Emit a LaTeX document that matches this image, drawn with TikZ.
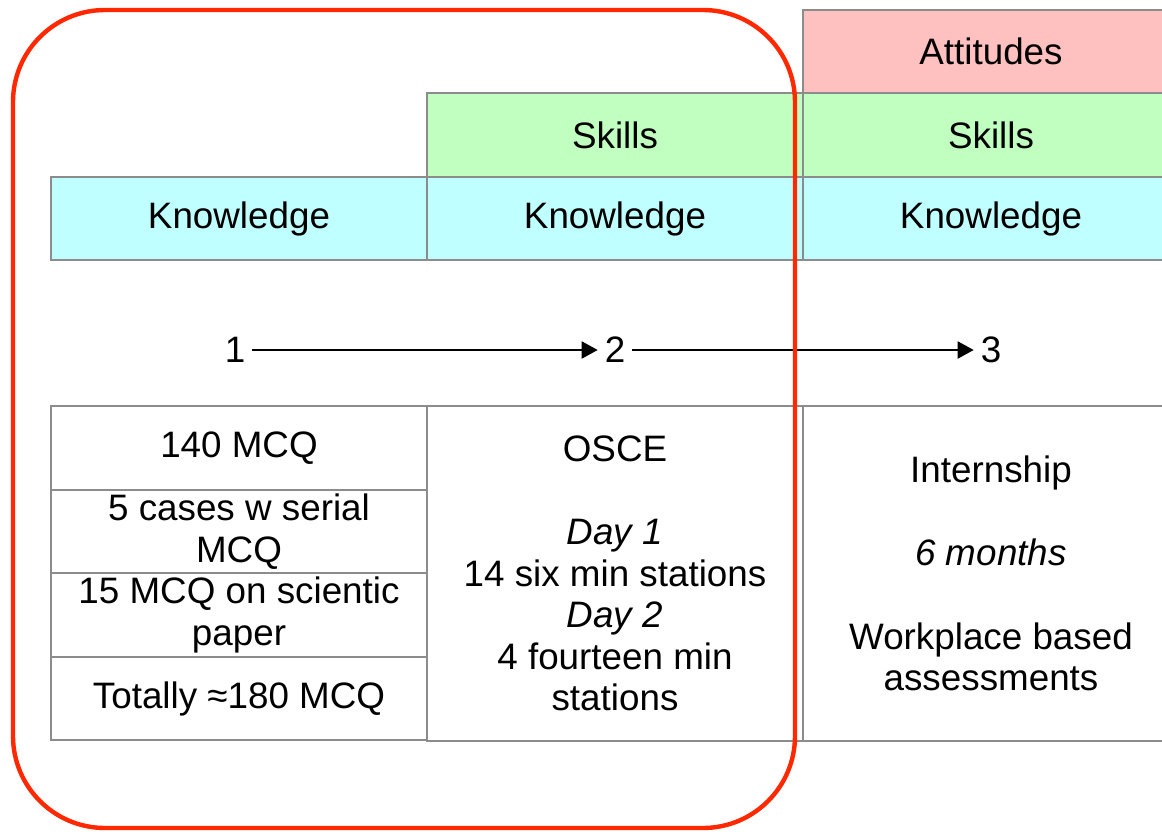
\documentclass[tikz,border=0pt]{standalone}
\usepackage{fontspec}
\setmainfont{Liberation Sans}
\usetikzlibrary{positioning,arrows.meta}
\definecolor{cellgray}{RGB}{140,140,140}
\definecolor{knowfill}{RGB}{192,255,255}
\definecolor{skillfill}{RGB}{192,255,192}
\definecolor{attfill}{RGB}{255,192,192}
\definecolor{ringred}{RGB}{255,40,0}

\begin{document}
\begin{tikzpicture}[x=0.5pt,y=-0.5pt,node distance=41.75pt and 188pt,on grid,
                font=\fontsize{18.4}{20.8}\selectfont,
                cell/.style={draw=cellgray,line width=0.9pt,minimum width=188pt,
                  minimum height=41.75pt,inner sep=0pt,align=center},
                tall/.style={cell,minimum height=167.5pt},
                step arrow/.style={-{Triangle[length=8pt,width=8.5pt]},line width=1pt}]
                \useasboundingbox (0,0) rectangle (1162,831);
                % header rows
                \node[cell,fill=knowfill] (K_1) at (239,218.5) {Knowledge};
                \node[cell,fill=knowfill] (K_2) [right=of K_1] {Knowledge};
                \node[cell,fill=knowfill] (K_3) [right=of K_2] {Knowledge};
                \node[cell,fill=skillfill] (S_2) [above=of K_2] {Skills};
                \node[cell,fill=skillfill] (S_3) [above=of K_3] {Skills};
                \node[cell,fill=attfill] (A_3) [above=of S_3] {Attitudes};
                % steps
                \node (N_1) [below=65.75pt of K_1,xshift=-2pt] {1};
                \node (N_2) [below=65.75pt of K_2] {2};
                \node (N_3) [below=65.75pt of K_3] {3};
                \path[step arrow]
                (N_1) edge (N_2)
                (N_2) edge (N_3);
                % exams
                \node[cell] (T_1) [below=114.75pt of K_1] {140 MCQ};
                \node[cell] (T_2) [below=of T_1] {5 cases w serial\\MCQ};
                \node[cell] (T_3) [below=of T_2] {15 MCQ on scientic\\paper};
                \node[cell] (T_4) [below=of T_3] {Totally ≈180 MCQ};
                \node[tall] (O_2) [below=177.5pt of K_2]
                  {OSCE\\[20.8pt]\textit{Day 1}\\14 six min stations\\\textit{Day 2}\\4 fourteen min\\stations};
                \node[tall] (I_3) [below=177.5pt of K_3]
                  {Internship\\[20.8pt]\textit{6 months}\\[20.8pt]Workplace based\\assessments};
                % first part
                \draw[ringred,line width=2.2pt,rounded corners=46pt] (13,10) rectangle (795,828);
            \end{tikzpicture}
\end{document}
